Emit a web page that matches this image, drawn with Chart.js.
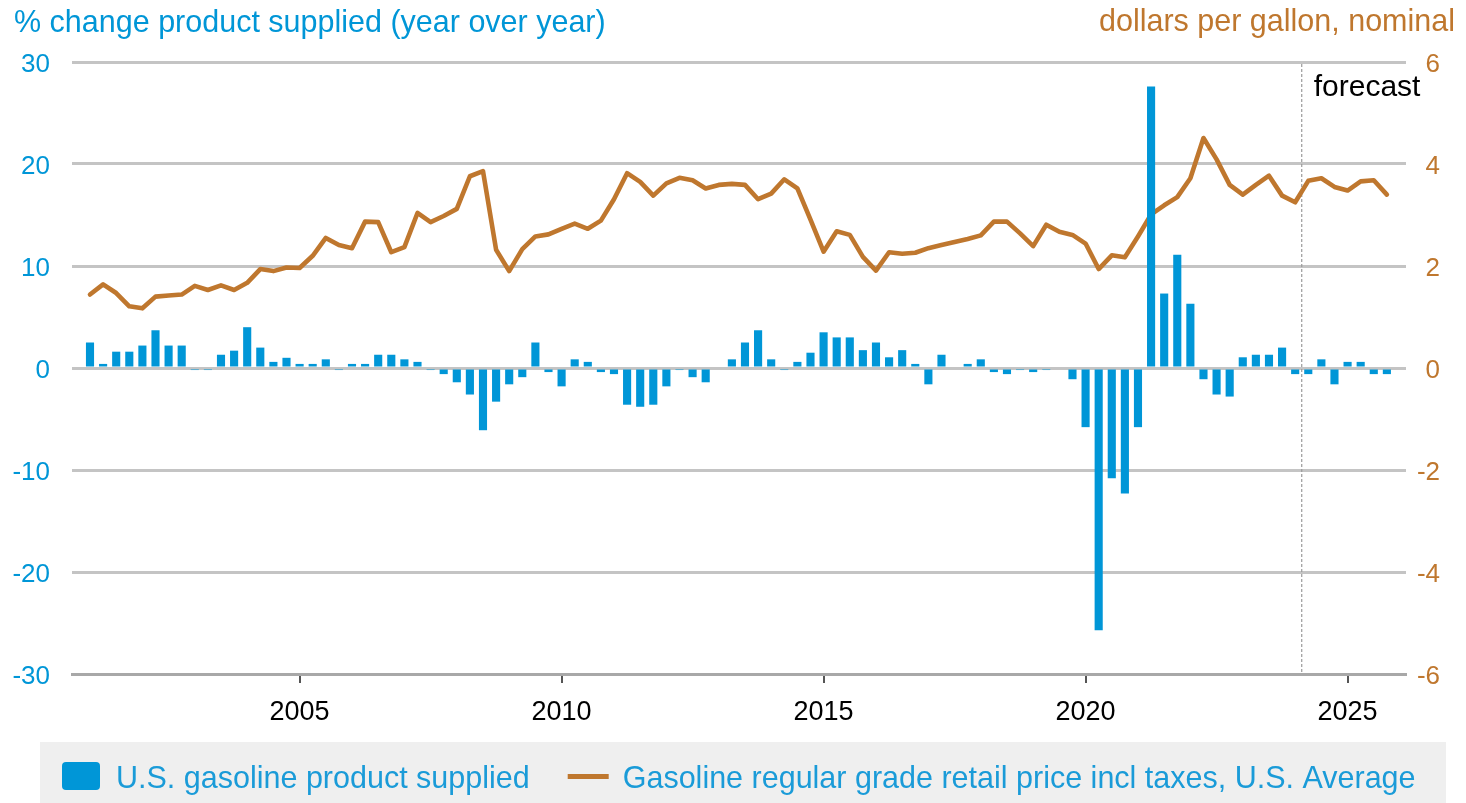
<!DOCTYPE html>
<html>
<head>
<meta charset="utf-8">
<script src="https://cdn.jsdelivr.net/npm/chart.js@4.4.1/dist/chart.umd.min.js"></script>
<style>
  html, body { margin: 0; padding: 0; background: #fff; }
  #wrap { width: 1466px; height: 803px; }
</style>
</head>
<body>
<div id="wrap"><canvas id="chart" width="1466" height="803"></canvas></div>
<script>
// quarterly categories 2001Q1 .. 2025Q4
const quarters = [];
for (let y = 2001; y <= 2025; y++) {
  for (let q = 1; q <= 4; q++) quarters.push(y + 'Q' + q);
}

// % change product supplied, year over year
const supplyChange = [
  2.5, 0.4, 1.6, 1.6,    2.2, 3.7, 2.2, 2.2,    -0.2, -0.2, 1.3, 1.7,   4.0, 2.0, 0.6, 1.0,
  0.4, 0.4, 0.85, -0.2,  0.4, 0.4, 1.3, 1.3,    0.85, 0.6, -0.2, -0.6,  -1.4, -2.6, -6.1, -3.3,
  -1.6, -0.9, 2.5, -0.4, -1.8, 0.85, 0.6, -0.4, -0.6, -3.6, -3.8, -3.6, -1.8, -0.2, -0.9, -1.4,
  0, 0.85, 2.5, 3.7,     0.85, -0.2, 0.6, 1.5,  3.5, 3.0, 3.0, 1.75,    2.5, 1.05, 1.75, 0.4,
  -1.6, 1.3, 0, 0.4,     0.85, -0.4, -0.6, -0.2, -0.4, -0.2, 0, -1.1,   -5.8, -25.7, -10.8, -12.3,
  -5.8, 27.6, 7.3, 11.1, 6.3, -1.1, -2.6, -2.8, 1.05, 1.3, 1.3, 2.0,    -0.6, -0.6, 0.85, -1.6,
  0.6, 0.6, -0.6, -0.6
];

// retail price, dollars per gallon
const retailPrice = [
  1.44, 1.64, 1.47, 1.21,  1.17, 1.40, 1.42, 1.44,  1.61, 1.53, 1.62, 1.53,  1.67, 1.94, 1.90, 1.97,
  1.96, 2.20, 2.55, 2.41,  2.35, 2.87, 2.86, 2.27,  2.37, 3.04, 2.86, 2.98,  3.12, 3.76, 3.86, 2.32,
  1.90, 2.33, 2.58, 2.62,  2.73, 2.83, 2.73, 2.89,  3.31, 3.82, 3.65, 3.38,  3.62, 3.73, 3.68, 3.52,
  3.59, 3.61, 3.59, 3.31,  3.42, 3.70, 3.52, 2.91,  2.28, 2.68, 2.61, 2.18,  1.91, 2.27, 2.24, 2.26,
  2.35, 2.41, 2.47, 2.53,  2.60, 2.87, 2.87, 2.64,  2.39, 2.81, 2.67, 2.61,  2.44, 1.94, 2.21, 2.17,
  2.58, 3.01, 3.19, 3.35,  3.72, 4.51, 4.09, 3.59,  3.40, 3.59, 3.77, 3.38,  3.25, 3.67, 3.72, 3.55,
  3.48, 3.66, 3.68, 3.40
];

const tickYears = [2005, 2010, 2015, 2020, 2025];
const forecastStart = '2024Q2';

const BLUE = '#0096d7';
const ORANGE = '#bf772e';
const FONT = "'Liberation Sans', Arial, Helvetica, sans-serif";

function quarterPos(label) {
  return +label.slice(0, 4) + (+label.slice(5) - 1) / 4;
}

Chart.defaults.font.family = FONT;

function forecastPixel(chart) {
  const x = chart.scales.x, p = quarterPos(forecastStart);
  return (x.getPixelForValue(p) + x.getPixelForValue(p - 0.25)) / 2;
}

// titles, forecast marker and legend strip
const extras = {
  id: 'extras',
  beforeDatasetsDraw(chart) {
    const ctx = chart.ctx, area = chart.chartArea;
    const fx = forecastPixel(chart);
    ctx.save();
    ctx.strokeStyle = '#9a9a9a';
    ctx.lineWidth = 1.2;
    ctx.setLineDash([3, 2]);
    ctx.beginPath();
    ctx.moveTo(fx, area.top + 2);
    ctx.lineTo(fx, area.bottom);
    ctx.stroke();
    ctx.restore();
  },
  afterDraw(chart) {
    const ctx = chart.ctx;
    const fx = forecastPixel(chart);
    ctx.save();
    ctx.font = '30.5px ' + FONT;
    ctx.textBaseline = 'alphabetic';
    ctx.fillStyle = BLUE;
    ctx.textAlign = 'left';
    ctx.fillText('% change product supplied (year over year)', 14, 32);
    ctx.fillStyle = ORANGE;
    ctx.textAlign = 'right';
    ctx.fillText('dollars per gallon, nominal', 1455, 31);
    ctx.font = '30px ' + FONT;
    ctx.fillStyle = '#000';
    ctx.textAlign = 'left';
    ctx.fillText('forecast', fx + 12, 96);

    // legend
    ctx.font = '30.5px ' + FONT;
    ctx.fillStyle = '#efefef';
    ctx.fillRect(40, 742, 1406, 70);
    const ds = chart.data.datasets;
    let lx = 62;
    ctx.fillStyle = ds[0].backgroundColor;
    ctx.beginPath();
    ctx.roundRect(lx, 762, 38, 28, 4);
    ctx.fill();
    lx += 38 + 16;
    ctx.fillStyle = '#1a9bd8';
    ctx.fillText(ds[0].label, lx, 788);
    lx += ctx.measureText(ds[0].label).width + 38;
    ctx.strokeStyle = ds[1].borderColor;
    ctx.lineWidth = 5;
    ctx.beginPath();
    ctx.moveTo(lx, 776.5);
    ctx.lineTo(lx + 41, 776.5);
    ctx.stroke();
    lx += 41 + 14;
    ctx.fillText(ds[1].label, lx, 788);
    ctx.restore();
  }
};

new Chart(document.getElementById('chart'), {
  type: 'bar',
  data: {
    datasets: [
      {
        type: 'bar',
        label: 'U.S. gasoline product supplied',
        data: quarters.map((q, i) => ({ x: quarterPos(q), y: supplyChange[i] })),
        backgroundColor: BLUE,
        barPercentage: 0.62,
        categoryPercentage: 1,
        yAxisID: 'y'
      },
      {
        type: 'line',
        label: 'Gasoline regular grade retail price incl taxes, U.S. Average',
        data: quarters.map((q, i) => ({ x: quarterPos(q), y: retailPrice[i] })),
        borderColor: ORANGE,
        borderWidth: 4.6,
        pointRadius: 0,
        tension: 0,
        borderJoinStyle: 'round',
        borderCapStyle: 'round',
        yAxisID: 'y1'
      }
    ]
  },
  options: {
    responsive: false,
    devicePixelRatio: 1,
    animation: false,
    layout: { padding: { top: 62, bottom: 69, left: 0, right: 26 } },
    plugins: { legend: { display: false }, tooltip: { enabled: false } },
    scales: {
      x: {
        type: 'linear',
        min: 2000.6565,
        max: 2026.115,
        offset: false,
        afterBuildTicks: s => { s.ticks = tickYears.map(v => ({ value: v })); },
        afterFit: s => { s.height = 60; },
        ticks: {
          autoSkip: false,
          maxRotation: 0,
          padding: 13,
          color: '#000',
          font: { size: 27 },
          callback: v => String(v)
        },
        grid: { offset: false, drawOnChartArea: false, drawTicks: true, tickLength: 9, color: '#555', lineWidth: 2 },
        border: { display: true, color: '#a8a8a8', width: 3 }
      },
      y: {
        position: 'left',
        min: -30,
        max: 30,
        afterFit: s => { s.width = 72; },
        ticks: { stepSize: 10, color: BLUE, font: { size: 26 }, padding: 22, labelOffset: 3 },
        grid: { color: '#c4c4c4', lineWidth: 3, drawTicks: false },
        border: { display: false }
      },
      y1: {
        position: 'right',
        min: -6,
        max: 6,
        afterFit: s => { s.width = 34; },
        ticks: { stepSize: 2, color: ORANGE, font: { size: 26 }, padding: 11, crossAlign: 'far', labelOffset: 3 },
        grid: { drawOnChartArea: false, drawTicks: false },
        border: { display: false }
      }
    }
  },
  plugins: [extras]
});
</script>
</body>
</html>
